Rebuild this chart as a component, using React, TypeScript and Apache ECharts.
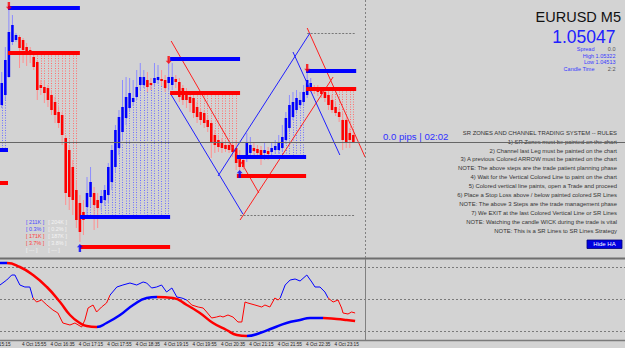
import React, { useEffect, useRef } from "react";
import * as echarts from "echarts";

// ---------- data ----------
// candle index 0 = 4 Oct 15:30, 5-minute bars
const opens = [1.05158,1.05188,1.05242,1.05347,1.05353,1.05362,1.05353,1.05332,1.05323,1.05302,1.05287,1.05218,1.05212,1.05209,1.05188,1.05167,1.05137,1.05128,1.05059,1.05023,1.04972,1.04903,1.04864,1.04837,1.04852,1.04882,1.04894,1.04873,1.04864,1.04873,1.04888,1.04927,1.04972,1.05029,1.05077,1.05119,1.05149,1.05167,1.05182,1.05218,1.05218,1.05233,1.05224,1.05224,1.05233,1.05236,1.05233,1.05224,1.05218,1.05236,1.05227,1.05209,1.05188,1.05182,1.05179,1.05152,1.05137,1.05134,1.05113,1.05104,1.05068,1.05053,1.05044,1.05038,1.05038,1.05038,1.05029,1.05002,1.04993,1.05002,1.05014,1.05029,1.05026,1.05023,1.05014,1.05020,1.05017,1.05023,1.05023,1.05029,1.05053,1.05089,1.05122,1.05143,1.05158,1.05167,1.05188,1.05209,1.05209,1.05209,1.05203,1.05197,1.05188,1.05173,1.05152,1.05137,1.05113,1.05113,1.05074,1.05068];
const closes = [1.05224,1.05293,1.05377,1.05398,1.05368,1.05329,1.05323,1.05314,1.05308,1.05272,1.05203,1.05209,1.05194,1.05173,1.05143,1.05128,1.05104,1.05068,1.04894,1.04882,1.04873,1.04813,1.04777,1.04813,1.04894,1.04927,1.04858,1.04849,1.04885,1.04903,1.04972,1.05023,1.05083,1.05122,1.05152,1.05182,1.05194,1.05179,1.05212,1.05242,1.05242,1.05212,1.05218,1.05239,1.05242,1.05230,1.05209,1.05242,1.05242,1.05227,1.05182,1.05173,1.05173,1.05164,1.05134,1.05122,1.05113,1.05104,1.05092,1.05044,1.05038,1.05032,1.05029,1.05026,1.05023,1.05017,1.04984,1.04972,1.04972,1.05044,1.05038,1.05020,1.05014,1.05002,1.05023,1.05011,1.05029,1.05035,1.05044,1.05062,1.05119,1.05158,1.05167,1.05179,1.05173,1.05197,1.05233,1.05224,1.05203,1.05197,1.05191,1.05179,1.05158,1.05143,1.05134,1.05122,1.05053,1.05047,1.05053,1.05047];
const highs = [1.05257,1.05332,1.05458,1.05428,1.05374,1.05368,1.05359,1.05344,1.05332,1.05308,1.05293,1.05233,1.05233,1.05218,1.05203,1.05182,1.05152,1.05137,1.05068,1.05038,1.04993,1.04933,1.04888,1.04873,1.04942,1.04972,1.04912,1.04894,1.04903,1.04918,1.04984,1.05038,1.05098,1.05143,1.05233,1.05242,1.05239,1.05233,1.05263,1.05284,1.05263,1.05257,1.05239,1.05284,1.05278,1.05263,1.05248,1.05299,1.05284,1.05248,1.05239,1.05218,1.05209,1.05197,1.05188,1.05167,1.05149,1.05143,1.05128,1.05113,1.05083,1.05068,1.05059,1.05053,1.05047,1.05044,1.05053,1.05023,1.05008,1.05074,1.05062,1.05044,1.05038,1.05035,1.05047,1.05032,1.05044,1.05053,1.05068,1.05098,1.05137,1.05188,1.05197,1.05203,1.05197,1.05218,1.05263,1.05239,1.05218,1.05218,1.05212,1.05209,1.05197,1.05188,1.05164,1.05149,1.05134,1.05119,1.05089,1.05083];
const lows = [1.05149,1.05173,1.05239,1.05338,1.05347,1.05269,1.05284,1.05275,1.05284,1.05263,1.05173,1.05188,1.05164,1.05152,1.05128,1.05104,1.05089,1.05038,1.04858,1.04843,1.04828,1.04789,1.04747,1.04768,1.04822,1.04852,1.04783,1.04789,1.04843,1.04855,1.04864,1.04903,1.04957,1.05008,1.05053,1.05098,1.05137,1.05155,1.05173,1.05203,1.05209,1.05197,1.05203,1.05212,1.05221,1.05215,1.05197,1.05203,1.05203,1.05209,1.05167,1.05158,1.05149,1.05137,1.05119,1.05104,1.05098,1.05089,1.05077,1.04999,1.05014,1.05017,1.05014,1.05017,1.05014,1.05002,1.04963,1.04939,1.04963,1.04987,1.04999,1.05008,1.04999,1.04978,1.04993,1.04993,1.05005,1.05011,1.05011,1.05017,1.05041,1.05077,1.05113,1.05134,1.05149,1.05155,1.05179,1.05197,1.05191,1.05185,1.05179,1.05167,1.05143,1.05134,1.05125,1.05107,1.05023,1.05029,1.05029,1.05047];

// SR zone pairs (upper blue line, lower red line), from/to in bar index
const srFrom = [-0.5, 1.75, 22.0, 47.4, 66.2, 85.7];
const srTo = [1.75, 22.0, 47.4, 67.1, 85.7, 99.8];
const srUpper = [1.05023, 1.05449, 1.04822, 1.05296, 1.05002, 1.05260];
const srLower = [1.04924, 1.05314, 1.04732, 1.05194, 1.04945, 1.05206];
const srKind = ["support", "resistance", "support", "resistance", "support", "resistance"];

// channel legs [[bar, price], [bar, price]]
const redLegs = [
  [[47.7, 1.0535], [72.4, 1.04894]],
  [[67.1, 1.04813], [93.3, 1.05242]],
  [[86.0, 1.05389], [102.3, 1.05002]],
];
const blueLegs = [
  [[47.4, 1.05194], [67.9, 1.04831]],
  [[60.9, 1.04945], [86.8, 1.05374]],
  [[82.0, 1.05317], [95.2, 1.05008]],
];
const pivotLevels = [
  [[86.0, 1.05374], [99.5, 1.05374]],
  [[67.1, 1.04828], [99.2, 1.04828]],
];

// arrows
const arrowBar = [2, 47, 86, 22, 67];
const arrowPrice = [1.05455, 1.05293, 1.05269, 1.04729, 1.04951];
const arrowDir = ["down", "down", "down", "up", "up"];

const bidPrice = 1.05047;
const nowBar = 102.3;
const lastBar = 99;

// oscillator (lower panel)
const fastLine = [[-0.5,55],[1.4,60],[2.8,65],[3.7,65],[5.1,55],[6.5,53],[7.9,53],[8.8,42],[9.8,38],[11.2,40],[12.7,35],[14.4,30],[15.8,27],[17.2,17],[19.2,15],[20.6,17],[22.5,13],[23.4,20],[24.3,32],[25.7,35],[26.7,28],[28.1,33],[29.5,37],[30.5,45],[32.4,53],[34.1,55],[36.1,57],[38.0,55],[39.8,58],[40.8,57],[42.2,52],[43.6,53],[45.0,55],[46.4,48],[47.9,52],[49.3,43],[50.7,42],[52.1,40],[53.5,35],[55.3,33],[56.7,32],[57.7,28],[59.1,22],[60.5,23],[61.5,24],[62.3,23],[63.7,25],[65.1,23],[66.5,18],[67.6,18],[68.5,38],[69.3,37],[71.3,35],[73.2,33],[74.1,35],[75.5,33],[76.9,42],[77.8,40],[78.4,42],[79.8,55],[81.2,60],[82.6,61],[84.0,59],[85.9,65],[87.3,58],[88.2,53],[89.6,53],[91.0,48],[91.9,42],[93.3,38],[94.7,40],[95.7,32],[96.1,27],[97.5,26],[98.5,28],[99.5,27]];
const slowLine = [[-0.5,77],[1.4,77],[5.1,73],[8.8,65],[12.7,53],[16.4,38],[19.2,25],[22.0,17],[23.9,14],[26.7,13],[29.5,17],[33.3,25],[37.0,35],[40.8,42],[43.6,43],[48.2,42],[52.1,35],[55.8,27],[59.5,17],[63.3,10],[66.2,5],[69.0,4],[72.7,7],[76.4,12],[80.2,17],[84.0,20],[86.8,22],[90.5,22],[94.3,21],[97.1,20],[99.5,19]];
const fastTurns = [8.8, 30.5, 52.1, 78.4, 91.9];
const slowTurns = [1.5, 26.7, 43.6, 69.0, 90.5];
const oscLevels = [9, 41, 73];
const firstScreenLabel = "4 Oct 15:15";

const infoLines = [
  "SR ZONES AND CHANNEL TRADING SYSTEM -- RULES",
  "1) SR Zones must be painted on the chart",
  "2) Channel last Leg must be painted on the chart",
  "3) A previous Colored ARROW must be painted on the chart",
  "NOTE: The above steps are the trade patient planning phase",
  "4) Wait for the Vertical Colored Line to paint on the chart",
  "5) Colored vertical line paints, open a Trade and proceed",
  "6) Place a Stop Loss above / below painted colored SR Lines",
  "NOTE: The above 3 Steps are the trade management phase",
  "7) We EXIT at the last Colored Vertical Line or SR Lines",
  "NOTE: Watching the candle WICK during the trade is vital",
  "NOTE: This is a SR Lines to SR Lines Strategy",
];
const statsLeft = ["[ 211K ]", "[ 0.3% ]", "[ 171K ]", "[ 3.7% ]", "[ --- ]"];
const statsRight = ["[ 204K ]", "[ 0.2% ]", "[ 187K ]", "[ 3.8% ]", "[ --- ]"];

// ---------- style ----------
const BG = "#d3d3d3";
const BLUE = "#0000ff";
const RED = "#ff0000";
const FONT = "Liberation Sans, Arial, sans-serif";
const IDX_MIN = -0.5;
const IDX_MAX = 175.5;

function timeLabel(k: number) {
  const m = 15 * 60 + 30 + 5 * k;
  const hh = Math.floor(m / 60);
  const mm = m % 60;
  return "4 Oct " + hh + ":" + (mm < 10 ? "0" : "") + mm;
}

function pieces(turns: number[]) {
  const res: any[] = [];
  for (let k = 0; k <= turns.length; k++) {
    const p: any = { color: k % 2 === 0 ? BLUE : RED };
    if (k > 0) p.gte = turns[k - 1];
    if (k < turns.length) p.lt = turns[k];
    res.push(p);
  }
  return res;
}

export default function App() {
  const ref = useRef<HTMLDivElement>(null);
  useEffect(() => {
    if (!ref.current) return;
    const chart = echarts.init(ref.current, null, { renderer: "svg" });

    const candleData = opens.map((o, i) => [i, o, closes[i], lows[i], highs[i]]);

    // dotted zone lines from SR line to candle bodies
    const zoneLines: any[] = [];
    for (let z = 0; z < srFrom.length; z++) {
      const a = Math.ceil(srFrom[z]);
      const b = z + 1 < srFrom.length ? Math.ceil(srFrom[z + 1]) : lastBar + 1;
      for (let i = Math.max(0, a); i < b && i < opens.length; i++) {
        const top = Math.max(opens[i], closes[i]);
        const bot = Math.min(opens[i], closes[i]);
        if (srKind[z] === "resistance" && top < srLower[z]) {
          zoneLines.push({ coords: [[i, srLower[z]], [i, top]], lineStyle: { color: "#ff7070" } });
        }
        if (srKind[z] === "support" && bot > srUpper[z]) {
          zoneLines.push({ coords: [[i, bot], [i, srUpper[z]]], lineStyle: { color: "#7070ff" } });
        }
      }
    }

    const srLines: any[] = [];
    for (let z = 0; z < srFrom.length; z++) {
      srLines.push({ coords: [[srFrom[z], srUpper[z]], [srTo[z], srUpper[z]]], lineStyle: { color: BLUE } });
      srLines.push({ coords: [[srFrom[z], srLower[z]], [srTo[z], srLower[z]]], lineStyle: { color: RED } });
    }

    const channelLines = [
      ...redLegs.map((c) => ({ coords: c, lineStyle: { color: "#ff2020" } })),
      ...blueLegs.map((c) => ({ coords: c, lineStyle: { color: "#2020ff" } })),
    ];

    const arrowPathUp = "path://M5,0 L10,5 L7,5 L7,12 L3,12 L3,5 L0,5 Z";
    const arrows = arrowBar.map((b, k) => ({
      value: [b, arrowPrice[k]],
      symbolRotate: arrowDir[k] === "down" ? 180 : 0,
      itemStyle: { color: arrowDir[k] === "down" ? RED : BLUE },
    }));

    const labelCats: string[] = [];
    for (let k = 0; k <= IDX_MAX - 0.5; k++) labelCats.push(timeLabel(k));

    const graphic: any[] = [];
    graphic.push({ type: "line", shape: { x1: 0, y1: 258.5, x2: 625, y2: 258.5 }, style: { stroke: "#6e6e6e", lineWidth: 2 }, silent: true });
    graphic.push({ type: "line", shape: { x1: 0, y1: 340.5, x2: 625, y2: 340.5 }, style: { stroke: "#7a7a7a", lineWidth: 1.5 }, silent: true });
    graphic.push({ type: "text", x: 10.5, y: 342, style: { text: firstScreenLabel, fill: "#222", fontSize: 4.7, fontFamily: FONT, align: "right", verticalAlign: "top" } });

    graphic.push({ type: "text", x: 621, y: 16.5, style: { text: "EURUSD M5", fill: "#111", fontSize: 14.5, fontFamily: FONT, align: "right", verticalAlign: "middle" } });
    graphic.push({ type: "text", x: 615.5, y: 37, style: { text: "1.05047", fill: "#2020ff", fontSize: 17.5, fontFamily: FONT, align: "right", verticalAlign: "middle" } });
    const smallBlue = "#3a3aff";
    const infoRows = [
      { l: "Spread", v: "0.0", y: 49.2 },
      { l: "High 1.05322", v: "", y: 55.6 },
      { l: "Low 1.04513", v: "", y: 62.1 },
      { l: "Candle Time", v: "2:2", y: 68.7 },
    ];
    infoRows.forEach((r) => {
      graphic.push({ type: "text", x: r.v ? 594.5 : 615.5, y: r.y, style: { text: r.l, fill: smallBlue, fontSize: 5.5, fontFamily: FONT, align: "right", verticalAlign: "middle" } });
      if (r.v) graphic.push({ type: "text", x: 615.5, y: r.y, style: { text: r.v, fill: "#555", fontSize: 5.5, fontFamily: FONT, align: "right", verticalAlign: "middle" } });
    });
    graphic.push({ type: "text", x: 383, y: 136.5, style: { text: "0.0 pips | 02:02", fill: "#3030ff", fontSize: 9.6, fontFamily: FONT, align: "left", verticalAlign: "middle" } });
    infoLines.forEach((t, k) => {
      graphic.push({ type: "text", x: 617, y: 132.7 + k * 8.9, style: { text: t, fill: "#333", fontSize: 5.9, fontFamily: FONT, align: "right", verticalAlign: "middle" } });
    });
    graphic.push({ type: "rect", shape: { x: 587, y: 240, width: 35, height: 8.5 }, style: { fill: "#0000e0", stroke: "#00007a", lineWidth: 0.8 } });
    graphic.push({ type: "text", x: 604.5, y: 244.4, style: { text: "Hide HA", fill: "#fff", fontSize: 6, fontFamily: FONT, align: "center", verticalAlign: "middle" } });
    const rowY = [222.3, 229, 236.2, 242.8, 249.7];
    const leftColors = ["#4a4aff", "#4a4aff", "#ff3a3a", "#ff3a3a", "#f4f4f4"];
    statsLeft.forEach((t, k) => {
      graphic.push({ type: "text", x: 26, y: rowY[k], style: { text: t, fill: leftColors[k], fontSize: 5.4, fontFamily: FONT, align: "left", verticalAlign: "middle" } });
      graphic.push({ type: "text", x: 48.3, y: rowY[k], style: { text: statsRight[k], fill: "#f4f4f4", fontSize: 5.4, fontFamily: FONT, align: "left", verticalAlign: "middle" } });
    });

    const option: any = {
      animation: false,
      backgroundColor: BG,
      grid: [
        { left: 0, right: 0, top: 0, height: 258 },
        { left: 0, right: 0, top: 259, height: 81 },
      ],
      xAxis: [
        { type: "value", gridIndex: 0, min: IDX_MIN, max: IDX_MAX, show: false },
        { type: "value", gridIndex: 1, min: IDX_MIN, max: IDX_MAX, show: false },
        {
          type: "category",
          gridIndex: 1,
          position: "bottom",
          data: labelCats,
          boundaryGap: true,
          axisLine: { show: false },
          axisTick: { show: false },
          splitLine: { show: false },
          axisLabel: {
            interval: (idx: number) => idx <= lastBar && (((idx - 5) % 8) + 8) % 8 === 0,
            fontSize: 4.7,
            color: "#222",
            fontFamily: FONT,
            margin: 2,
            align: "left",
            padding: [0, 0, 0, 2.5],
          },
        },
      ],
      yAxis: [
        { type: "value", gridIndex: 0, min: 1.04699, max: 1.05473, show: false },
        { type: "value", gridIndex: 1, min: 0, max: 81, show: false },
      ],
      visualMap: [
        { type: "piecewise", show: false, dimension: 0, seriesIndex: 9, pieces: pieces(slowTurns) },
        { type: "piecewise", show: false, dimension: 0, seriesIndex: 10, pieces: pieces(fastTurns) },
      ],
      series: [
        {
          type: "lines", coordinateSystem: "cartesian2d", xAxisIndex: 0, yAxisIndex: 0,
          data: zoneLines, lineStyle: { width: 1, type: [1, 1.5], opacity: 1 }, silent: true,
        },
        {
          type: "custom", xAxisIndex: 0, yAxisIndex: 0, data: candleData,
          encode: { x: 0, y: [1, 2, 3, 4] },
          renderItem: (params: any, api: any) => {
            const i = api.value(0);
            const o = api.value(1), c = api.value(2), l = api.value(3), h = api.value(4);
            const top = api.coord([i, Math.max(o, c)]);
            const bot = api.coord([i, Math.min(o, c)]);
            const hi = api.coord([i, h]);
            const lo = api.coord([i, l]);
            const bull = c >= o;
            const bw = api.size([1, 0])[0] * 0.72;
            return {
              type: "group",
              children: [
                { type: "line", shape: { x1: hi[0], y1: hi[1], x2: lo[0], y2: lo[1] }, style: { stroke: bull ? "#8c8cff" : "#ff8f8f", lineWidth: 1 } },
                { type: "rect", shape: { x: top[0] - bw / 2, y: top[1], width: bw, height: Math.max(1.2, bot[1] - top[1]) }, style: { fill: bull ? BLUE : RED } },
              ],
            };
          },
          silent: true,
        },
        {
          type: "lines", coordinateSystem: "cartesian2d", xAxisIndex: 0, yAxisIndex: 0,
          data: channelLines, lineStyle: { width: 1, opacity: 1 }, silent: true,
        },
        {
          type: "lines", coordinateSystem: "cartesian2d", xAxisIndex: 0, yAxisIndex: 0,
          data: pivotLevels.map((c) => ({ coords: c })), lineStyle: { width: 1, color: "#777", type: [2, 1.5], opacity: 1 }, silent: true,
        },
        {
          type: "lines", coordinateSystem: "cartesian2d", xAxisIndex: 0, yAxisIndex: 0,
          data: srLines, lineStyle: { width: 4, opacity: 1 }, silent: true,
        },
        {
          type: "lines", coordinateSystem: "cartesian2d", xAxisIndex: 0, yAxisIndex: 0,
          data: [{ coords: [[IDX_MIN, bidPrice], [IDX_MAX, bidPrice]] }], lineStyle: { width: 1, color: "#666", opacity: 1 }, silent: true,
        },
        {
          type: "scatter", xAxisIndex: 0, yAxisIndex: 0, data: arrows,
          symbol: arrowPathUp, symbolSize: [6, 8], silent: true,
        },
        {
          type: "lines", coordinateSystem: "cartesian2d", xAxisIndex: 0, yAxisIndex: 0,
          data: [{ coords: [[nowBar, 1.05473], [nowBar, 1.04699]] }], lineStyle: { width: 1, color: "#808080", type: [2, 2], opacity: 1 }, silent: true,
        },
        {
          type: "lines", coordinateSystem: "cartesian2d", xAxisIndex: 1, yAxisIndex: 1,
          data: oscLevels.map((v) => ({ coords: [[IDX_MIN, v], [IDX_MAX, v]] })),
          lineStyle: { width: 1, color: "#7a7a7a", type: [2, 2], opacity: 1 }, silent: true,
        },
        {
          type: "line", xAxisIndex: 1, yAxisIndex: 1, data: slowLine, showSymbol: false, smooth: true,
          lineStyle: { width: 2.5 }, silent: true,
        },
        {
          type: "line", xAxisIndex: 1, yAxisIndex: 1, data: fastLine, showSymbol: false,
          lineStyle: { width: 1 }, silent: true,
        },
        {
          type: "lines", coordinateSystem: "cartesian2d", xAxisIndex: 1, yAxisIndex: 1,
          data: [{ coords: [[nowBar, 0], [nowBar, 81]] }], lineStyle: { width: 1, color: "#808080", opacity: 1 }, silent: true,
        },
      ],
      graphic,
    };
    chart.setOption(option);
    return () => chart.dispose();
  }, []);
  return <div ref={ref} style={{ position: "fixed", left: 0, top: 0, width: 625, height: 348, background: BG }} />;
}
